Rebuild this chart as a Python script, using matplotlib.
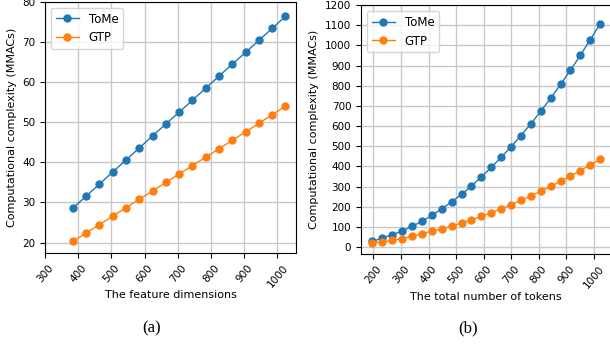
import matplotlib
matplotlib.use("Agg")
import matplotlib.pyplot as plt

# (a) feature dimensions
dims = [384, 424, 464, 504, 544, 584, 624, 664, 704, 744, 784, 824, 864, 904, 944, 984, 1024]
tome_dims = [28.6, 31.6, 34.6, 37.6, 40.6, 43.6, 46.6, 49.6, 52.5, 55.5, 58.5, 61.5, 64.5, 67.4, 70.4, 73.4, 76.4]
gtp_dims = [20.3, 22.4, 24.5, 26.6, 28.7, 30.8, 32.9, 35.0, 37.1, 39.2, 41.3, 43.4, 45.5, 47.6, 49.7, 51.9, 54.0]

# (b) number of tokens
tokens = [196, 232, 268, 304, 340, 376, 412, 448, 484, 520, 556, 592,
          628, 664, 700, 736, 772, 808, 844, 880, 916, 952, 988, 1024]
tome_tok = [28, 45, 61, 79, 103, 127, 157, 190, 224, 262, 302, 348,
            395, 445, 497, 553, 611, 673, 738, 806, 877, 951, 1028, 1108]
gtp_tok = [20, 25, 33, 42, 53, 66, 79, 90, 104, 119, 135, 152,
           170, 190, 210, 232, 254, 277, 301, 326, 352, 379, 407, 436]

xt_a = [300, 400, 500, 600, 700, 800, 900, 1000]
yt_a = [20, 30, 40, 50, 60, 70, 80]
xt_b = [200, 300, 400, 500, 600, 700, 800, 900, 1000]
yt_b = list(range(0, 1300, 100))

fig = plt.figure(figsize=(6.1, 3.48), dpi=100)
ax1 = fig.add_axes([0.0738, 0.274, 0.4115, 0.7204])
ax2 = fig.add_axes([0.5918, 0.2701, 0.4108, 0.7155])

fs = 7.5
for ax, x, a, b, xt, yt, xl in [
    (ax1, dims, tome_dims, gtp_dims, xt_a, yt_a, 'The feature dimensions'),
    (ax2, tokens, tome_tok, gtp_tok, xt_b, yt_b, 'The total number of tokens'),
]:
    ax.plot(x, a, 'o-', color='tab:blue', lw=1, ms=5, label='ToMe')
    ax.plot(x, b, 'o-', color='tab:orange', lw=1, ms=5, label='GTP')
    ax.set_xticks(xt)
    ax.set_yticks(yt)
    ax.tick_params(axis='both', labelsize=fs)
    ax.tick_params(axis='x', labelrotation=50)
    ax.grid(True, color='#c8c8c8', lw=1)
    ax.set_axisbelow(True)
    ax.set_xlabel(xl, fontsize=8, labelpad=1)
    ax.set_ylabel('Computational complexity (MMACs)', fontsize=8)
    ax.legend(loc='upper left', fontsize=8.5)

fig.text(152 / 610, 1 - 328 / 348, '(a)', family='Liberation Serif', fontsize=12, ha='center', va='center')
fig.text(468 / 610, 1 - 328 / 348, '(b)', family='Liberation Serif', fontsize=12, ha='center', va='center')

fig.savefig('out.png', dpi=100)
